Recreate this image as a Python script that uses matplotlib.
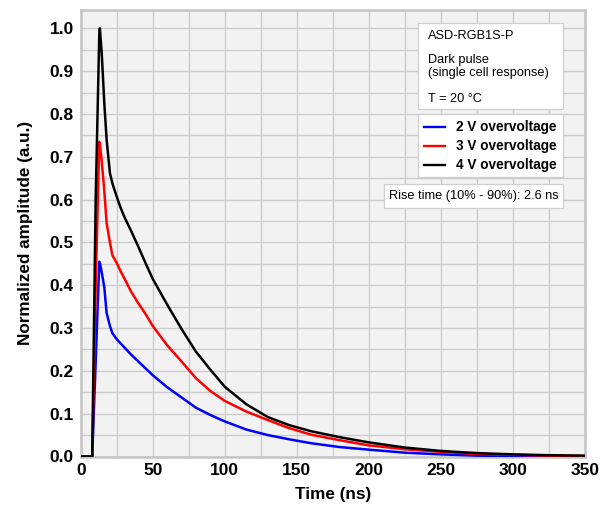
import matplotlib
matplotlib.use("Agg")
import matplotlib.pyplot as plt
from matplotlib.patches import Rectangle
from matplotlib.lines import Line2D

# ---------------------------------------------------------------------------
# Dark pulse data (normalized to the 4 V peak)
# ---------------------------------------------------------------------------

time_ns = [0, 8, 10.4, 12.9, 13.3, 14.6, 16.4, 18, 20.3, 22, 25, 27.5, 30, 35,
           40, 45, 50, 60, 70, 80, 90, 100, 115, 130, 145, 160, 180, 200, 225,
           250, 275, 300, 325, 350]

amp_2v = [0, 0, 0.22, 0.455, 0.452, 0.43, 0.395, 0.335, 0.305, 0.288, 0.274,
          0.265, 0.256, 0.238, 0.222, 0.206, 0.19, 0.162, 0.138, 0.114, 0.097,
          0.082, 0.063, 0.05, 0.04, 0.031, 0.022, 0.016, 0.009, 0.005, 0.002,
          0.001, 0.0, 0.0]

amp_3v = [0, 0, 0.40, 0.735, 0.73, 0.69, 0.62, 0.545, 0.50, 0.47, 0.452,
          0.434, 0.418, 0.385, 0.358, 0.333, 0.305, 0.26, 0.222, 0.183, 0.153,
          0.130, 0.105, 0.085, 0.066, 0.051, 0.038, 0.026, 0.017, 0.011, 0.006,
          0.004, 0.002, 0.001]

amp_4v = [0, 0, 0.6, 0.985, 1.0, 0.942, 0.825, 0.74, 0.662, 0.638, 0.607,
          0.583, 0.562, 0.527, 0.49, 0.452, 0.415, 0.355, 0.298, 0.245, 0.203,
          0.163, 0.122, 0.092, 0.073, 0.059, 0.045, 0.033, 0.021, 0.013, 0.008,
          0.005, 0.003, 0.002]

labels = ["2 V overvoltage", "3 V overvoltage", "4 V overvoltage"]
colors = ["#0000ff", "#ff0000", "#000000"]

FONT = "Liberation Sans"
W, H = 607, 505


def px(x, y):
    """pixel position (from top-left) -> figure fraction"""
    return x / W, 1 - y / H


fig = plt.figure(figsize=(W / 100, H / 100), dpi=100)
ax = fig.add_axes([80.7 / W, (H - 456.5) / H, 504 / W, 447 / H])
ax.set_facecolor("#f2f2f2")

for amp, lab, col in zip([amp_2v, amp_3v, amp_4v], labels, colors):
    ax.plot(time_ns, amp, color=col, lw=1.8, label=lab, zorder=3,
            solid_joinstyle="round")

ax.set_xlim(0, 350)
ax.set_ylim(0, 1.044)
ax.set_xticks(range(0, 351, 50))
ax.set_xticks(range(0, 351, 25), minor=True)
ax.set_yticks([i / 10 for i in range(11)])
ax.set_yticks([i / 20 for i in range(21)], minor=True)
ax.set_yticklabels([f"{i / 10:.1f}" for i in range(11)])
ax.grid(True, which="both", color="#cccccc", lw=1.0, zorder=0)
ax.tick_params(which="both", length=0, pad=5)
for lab in ax.get_xticklabels() + ax.get_yticklabels():
    lab.set_fontfamily(FONT)
    lab.set_fontweight("bold")
    lab.set_fontsize(12.5)
for sp in ax.spines.values():
    sp.set_color("#c4c4c4")
    sp.set_linewidth(1.8)

ax.set_xlabel("Time (ns)", fontfamily=FONT, fontweight="bold", fontsize=12.3, labelpad=6)
ax.set_ylabel("Normalized amplitude (a.u.)", fontfamily=FONT, fontweight="bold",
              fontsize=12.3, labelpad=12)

# info boxes
def box(x0, y0, x1, y1):
    (fx0, fy1), (fx1, fy0) = px(x0, y0), px(x1, y1)
    fig.add_artist(Rectangle((fx0, fy0), fx1 - fx0, fy1 - fy0, transform=fig.transFigure,
                             facecolor="white", edgecolor="#cfcfcf", lw=0.9, zorder=5))


def txt(x, y, s, size=9.2, weight="normal", ha="left"):
    fx, fy = px(x, y)
    fig.text(fx, fy, s, fontfamily=FONT, fontsize=size, fontweight=weight,
             ha=ha, va="center", zorder=6)


box(418, 22.5, 563, 109)
txt(428, 35.5, "ASD-RGB1S-P")
txt(428, 60, "Dark pulse")
txt(428, 73, "(single cell response)")
txt(428, 99, "T = 20 °C")

box(418, 114, 563, 177)
for i, (lab, col) in enumerate(zip(labels, colors)):
    yy = 126.5 + i * 19.3
    (x0, y0), (x1, _) = px(424, yy), px(445, yy)
    fig.add_artist(Line2D([x0, x1], [y0, y0], transform=fig.transFigure,
                          color=col, lw=1.7, zorder=6))
    txt(456, yy, lab, size=9.8, weight="bold")

box(384, 184, 563, 208)
txt(473.5, 196, "Rise time (10% - 90%): 2.6 ns", ha="center")

fig.savefig("out.png", dpi=100)
